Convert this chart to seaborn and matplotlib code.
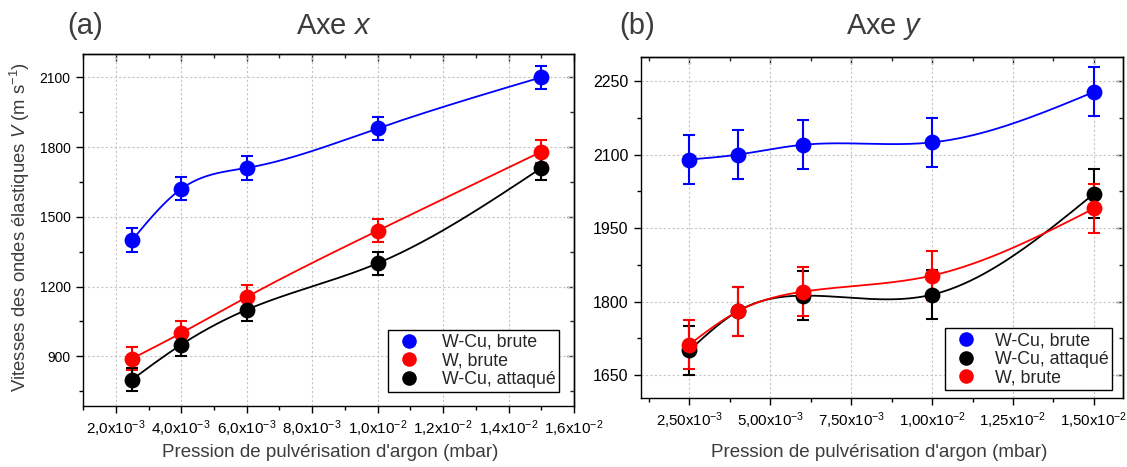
import numpy as np
import pandas as pd
import matplotlib
matplotlib.use("Agg")
import matplotlib.pyplot as plt
import seaborn as sns
from matplotlib.ticker import FixedLocator, FixedFormatter, MultipleLocator
from matplotlib.lines import Line2D

# ---------------- data ----------------
pressure = [2.5e-3, 4.0e-3, 6.0e-3, 1.0e-2, 1.5e-2]

a_wcu_brute = [1400, 1620, 1710, 1880, 2100]
a_wcu_brute_err = [50, 50, 50, 50, 50]
a_w_brute = [890, 1000, 1155, 1440, 1780]
a_w_brute_err = [50, 50, 50, 50, 50]
a_wcu_attaque = [800, 950, 1100, 1300, 1710]
a_wcu_attaque_err = [50, 50, 50, 50, 50]

b_wcu_brute = [2090, 2100, 2120, 2125, 2228]
b_wcu_brute_err = [50, 50, 50, 50, 50]
b_wcu_attaque = [1700, 1780, 1812, 1814, 2020]
b_wcu_attaque_err = [50, 50, 50, 50, 50]
b_w_brute = [1712, 1780, 1820, 1853, 1990]
b_w_brute_err = [50, 50, 50, 50, 50]

labels_a = ["W-Cu, brute", "W, brute", "W-Cu, attaqué"]
labels_b = ["W-Cu, brute", "W-Cu, attaqué", "W, brute"]

a_xticks = [2e-3, 4e-3, 6e-3, 8e-3, 1.0e-2, 1.2e-2, 1.4e-2, 1.6e-2]
a_xticklabels = ["2,0x10$^{-3}$", "4,0x10$^{-3}$", "6,0x10$^{-3}$", "8,0x10$^{-3}$",
                 "1,0x10$^{-2}$", "1,2x10$^{-2}$", "1,4x10$^{-2}$", "1,6x10$^{-2}$"]
a_yticks = [900, 1200, 1500, 1800, 2100]
b_xticks = [2.5e-3, 5.0e-3, 7.5e-3, 1.0e-2, 1.25e-2, 1.5e-2]
b_xticklabels = ["2,50x10$^{-3}$", "5,00x10$^{-3}$", "7,50x10$^{-3}$",
                 "1,00x10$^{-2}$", "1,25x10$^{-2}$", "1,50x10$^{-2}$"]
b_yticks = [1650, 1800, 1950, 2100, 2250]

BLUE, RED, BLACK = "#0000ff", "#ff0000", "#000000"
GRAYTXT = "#3c3c3c"

# ---------------- style ----------------
sns.set_theme(style="ticks")
plt.rcParams["font.family"] = ["Liberation Sans", "DejaVu Sans"]
plt.rcParams["mathtext.fontset"] = "custom"
plt.rcParams["mathtext.rm"] = "Liberation Sans"
plt.rcParams["mathtext.it"] = "Liberation Sans:italic"
plt.rcParams["mathtext.default"] = "rm"


def natural_spline(x, y, n=300):
    x = np.asarray(x, float)
    y = np.asarray(y, float)
    k = len(x)
    h = np.diff(x)
    A = np.zeros((k, k))
    r = np.zeros(k)
    A[0, 0] = A[-1, -1] = 1
    for i in range(1, k - 1):
        A[i, i - 1] = h[i - 1]
        A[i, i] = 2 * (h[i - 1] + h[i])
        A[i, i + 1] = h[i]
        r[i] = 6 * ((y[i + 1] - y[i]) / h[i] - (y[i] - y[i - 1]) / h[i - 1])
    M = np.linalg.solve(A, r)
    xs = np.linspace(x[0], x[-1], n)
    idx = np.clip(np.searchsorted(x, xs) - 1, 0, k - 2)
    x0, x1 = x[idx], x[idx + 1]
    hh = x1 - x0
    t0, t1 = x1 - xs, xs - x0
    ys = (M[idx] * t0 ** 3 + M[idx + 1] * t1 ** 3) / (6 * hh) \
        + (y[idx] / hh - M[idx] * hh / 6) * t0 + (y[idx + 1] / hh - M[idx + 1] * hh / 6) * t1
    return xs, ys


def draw_series(ax, yvals, yerr, color):
    xs, ys = natural_spline(pressure, yvals)
    sns.lineplot(x=xs, y=ys, ax=ax, color=color, lw=1.3, sort=False, zorder=3)
    ax.errorbar(pressure, yvals, yerr=yerr, fmt="none", ecolor=color, elinewidth=1.5,
                capsize=4, capthick=1.5, zorder=4)
    df = pd.DataFrame({"p": pressure, "v": yvals})
    sns.scatterplot(data=df, x="p", y="v", ax=ax, color=color, s=130, linewidth=0,
                    zorder=5, legend=False)


def style_axes(ax, xlim, ylim, xticks, xlabels, xminor, yticks, yminor, xls, yls):
    ax.set_xlim(*xlim)
    ax.set_ylim(*ylim)
    ax.xaxis.set_major_locator(FixedLocator(xticks))
    ax.xaxis.set_major_formatter(FixedFormatter(xlabels))
    ax.xaxis.set_minor_locator(MultipleLocator(xminor))
    ax.yaxis.set_major_locator(FixedLocator(yticks))
    ax.yaxis.set_minor_locator(MultipleLocator(yminor))
    ax.grid(True, which="major", color="#c4c4c4", linestyle=(0, (2, 2)), lw=0.8, zorder=0)
    ax.set_axisbelow(True)
    for s in ax.spines.values():
        s.set_visible(True)
        s.set_color("black")
        s.set_linewidth(1.0)
    ax.tick_params(axis="both", which="major", direction="out", length=5, width=1,
                   color="black", labelcolor="black", pad=4)
    ax.tick_params(axis="x", which="major", labelsize=xls)
    ax.tick_params(axis="y", which="major", labelsize=yls)
    ax.tick_params(axis="both", which="minor", direction="out", length=3, width=1, color="black")
    ax.set_xlabel("")
    ax.set_ylabel("")
    # inward ticks on top/right
    top = ax.secondary_xaxis("top")
    top.xaxis.set_major_locator(FixedLocator(xticks))
    top.xaxis.set_minor_locator(MultipleLocator(xminor))
    top.tick_params(which="major", direction="in", length=5, width=1, labeltop=False)
    top.tick_params(which="minor", direction="in", length=3, width=1)
    top.spines["top"].set_linewidth(1.0)
    right = ax.secondary_yaxis("right")
    right.yaxis.set_major_locator(FixedLocator(yticks))
    right.yaxis.set_minor_locator(MultipleLocator(yminor))
    right.tick_params(which="major", direction="in", length=5, width=1, labelright=False)
    right.tick_params(which="minor", direction="in", length=3, width=1)
    right.spines["right"].set_linewidth(1.0)


def add_legend(ax, labels, colors, anchor, textpad):
    handles = [Line2D([], [], ls="", marker="o", ms=10.5, mfc=c, mec=c, mew=0) for c in colors]
    leg = ax.legend(handles, labels, loc="lower right", bbox_to_anchor=anchor,
                    borderaxespad=0, frameon=True, fancybox=False, framealpha=1,
                    edgecolor="black", fontsize=12.8, handletextpad=textpad, labelspacing=0.1,
                    borderpad=0.2, handlelength=2.0)
    leg.get_frame().set_linewidth(1.0)
    leg.set_zorder(10)


fig = plt.figure(figsize=(11.27, 4.67), dpi=100)
ax_a = fig.add_axes([0.0737, 0.1306, 0.4357, 0.7537])
ax_b = fig.add_axes([0.5685, 0.1478, 0.4280, 0.7308])

# panel (a)
draw_series(ax_a, a_wcu_brute, a_wcu_brute_err, BLUE)
draw_series(ax_a, a_w_brute, a_w_brute_err, RED)
draw_series(ax_a, a_wcu_attaque, a_wcu_attaque_err, BLACK)
style_axes(ax_a, (1e-3, 1.6e-2), (686, 2200), a_xticks, a_xticklabels, 1e-3, a_yticks, 150,
           11, 10)
add_legend(ax_a, labels_a, [BLUE, RED, BLACK], (0.97, 0.04), 0.85)

# panel (b)
draw_series(ax_b, b_wcu_brute, b_wcu_brute_err, BLUE)
draw_series(ax_b, b_wcu_attaque, b_wcu_attaque_err, BLACK)
draw_series(ax_b, b_w_brute, b_w_brute_err, RED)
style_axes(ax_b, (1e-3, 1.59e-2), (1603, 2300), b_xticks, b_xticklabels, 1.25e-3, b_yticks, 75,
           10.8, 11.5)
add_legend(ax_b, labels_b, [BLUE, BLACK, RED], (0.977, 0.023), 0.6)

# titles and labels
yb = 1 - 34 / 467
fig.text(0.0754, yb, "(a)", ha="center", va="baseline", fontsize=21, color=GRAYTXT)
fig.text(0.2964, yb, "Axe $\\mathit{x}$", ha="center", va="baseline", fontsize=21, color=GRAYTXT)
fig.text(0.5652, yb, "(b)", ha="center", va="baseline", fontsize=21, color=GRAYTXT)
fig.text(0.7844, yb, "Axe $\\mathit{y}$", ha="center", va="baseline", fontsize=21, color=GRAYTXT)
fig.text(0.2928, 0.032, "Pression de pulvérisation d'argon (mbar)", ha="center", va="center",
         fontsize=13.5, color=GRAYTXT)
fig.text(0.780, 0.032, "Pression de pulvérisation d'argon (mbar)", ha="center", va="center",
         fontsize=13.5, color=GRAYTXT)
fig.text(0.0177, 0.514, "Vitesses des ondes élastiques $\\mathit{V}$ (m s$^{-1}$)", rotation=90,
         ha="center", va="center", fontsize=13.3, color=GRAYTXT)

fig.savefig("out.png", dpi=100)
